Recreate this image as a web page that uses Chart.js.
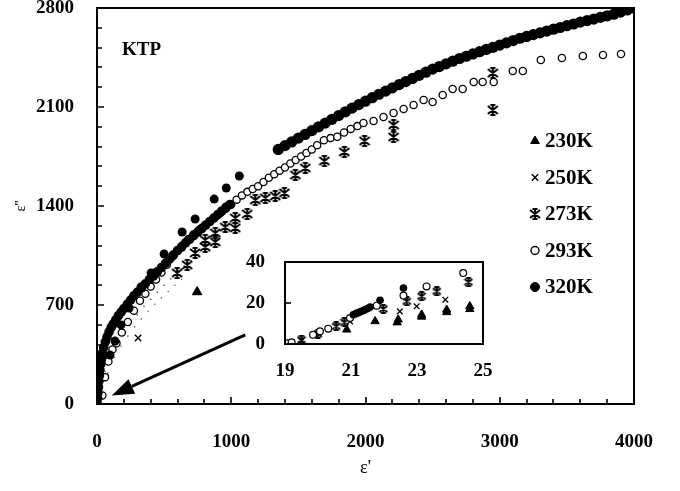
<!DOCTYPE html>
<html>
<head>
<meta charset="utf-8">
<script src="https://cdn.jsdelivr.net/npm/chart.js@4.4.0/dist/chart.umd.min.js"></script>
<style>
  body { margin: 0; background: #fff; }
  #wrap { position: relative; width: 680px; height: 491px; }
  #main { position: absolute; left: 0; top: 0; }
  #inset { position: absolute; left: 235px; top: 248px; }
</style>
</head>
<body>
<div id="wrap">
  <canvas id="main" width="680" height="491"></canvas>
  <canvas id="inset" width="260" height="135"></canvas>
</div>
<script>
// ---- main plot data (eps', eps'') ----
var k230 = [[746, 792]];
var k230trace = [[80,220],[130,330],[180,410],[230,480],[280,545],[330,600],[380,655],[430,705],[480,750],[530,795],[580,840],[630,880]];
var k250 = [[306, 467]];
var k250trace = [[60,230],[100,330],[150,420],[200,500],[250,570],[300,630],[350,690],[400,740],[450,790],[500,840],[550,885],[600,930],[650,975],[700,1015],[750,1055],[800,1090],[850,1125],[900,1160]];
var k273 = [[597,926],[672,983],[731,1068],[806,1110],[806,1160],[881,1146],[881,1209],[955,1251],[1030,1245],[1030,1315],[1119,1343],[1179,1442],[1254,1457],[1328,1471],[1396,1492],[1478,1619],[1552,1669],[1694,1718],[1843,1782],[1993,1860],[2209,1888],[2209,1973],[2948,2079],[2948,2340]];
var k293 = [[40,60],[60,190],[85,300],[115,385],[145,430],[185,505],[230,580],[275,660],[320,730],[360,780],[400,830],[440,880],[480,930],[520,985],[560,1040],[600,1085],[640,1125],[680,1165],[720,1200],[760,1230],[800,1260],[840,1290],[880,1320],[920,1350],[960,1380],[1000,1410],[1040,1445],[1080,1475],[1120,1500],[1160,1520],[1200,1540],[1240,1570],[1280,1600],[1320,1625],[1360,1650],[1400,1672],[1440,1700],[1480,1725],[1520,1750],[1560,1775],[1600,1800],[1640,1830],[1690,1865],[1740,1880],[1790,1890],[1840,1920],[1890,1945],[1940,1965],[1985,1987],[2060,2001],[2134,2029],[2209,2058],[2284,2086],[2358,2114],[2433,2149],[2500,2135],[2575,2185],[2649,2227],[2724,2227],[2806,2277],[2873,2277],[2955,2277],[3097,2355],[3172,2355],[3306,2432],[3463,2446],[3619,2461],[3769,2468],[3903,2475]];
var k320low = [[3,0],[5,40],[8,80],[11,120],[14,160],[18,200],[22,240],[27,280],[33,320],[40,360],[50,400],[62,440],[75,475],[90,510],[105,540],[120,565],[140,595],[160,625],[180,650],[200,675],[225,705],[250,735],[275,765],[300,790],[330,820],[360,850],[390,880],[420,905],[450,935],[480,965],[510,995],[540,1025],[570,1055],[600,1085],[630,1110],[660,1140],[690,1165],[720,1190],[750,1215],[780,1240],[810,1265],[840,1290],[870,1315],[900,1340],[930,1365],[960,1390],[990,1410]];
var k320dots = [[97,346],[134,445],[179,559],[239,679],[328,827],[403,926],[500,1061],[634,1216],[731,1308],[873,1449],[963,1527],[1060,1612]];
var k320high = [[1350,1800],[1400,1827],[1450,1853],[1500,1880],[1550,1906],[1600,1933],[1650,1960],[1700,1986],[1750,2013],[1800,2039],[1850,2066],[1900,2092],[1950,2117],[2000,2141],[2050,2166],[2100,2190],[2150,2212],[2200,2235],[2250,2258],[2300,2280],[2350,2302],[2400,2324],[2450,2346],[2500,2368],[2550,2386],[2600,2405],[2650,2424],[2700,2443],[2750,2459],[2800,2475],[2850,2491],[2900,2507],[2950,2522],[3000,2538],[3050,2554],[3100,2570],[3150,2586],[3200,2599],[3250,2612],[3300,2624],[3350,2637],[3400,2650],[3450,2662],[3500,2675],[3550,2687],[3600,2700],[3650,2711],[3700,2722],[3750,2734],[3800,2745],[3850,2756],[3900,2771],[3950,2786],[4000,2800]];

// ---- inset data ----
var in230 = [[20.87,7.0],[21.73,11.1],[22.43,11.9],[22.4,10.5],[23.14,14.3],[23.14,13.3],[23.9,16.7],[23.9,15.5],[24.6,18.4],[24.6,17.0]];
var in250 = [[19.15,0.8],[19.5,1.5],[20.97,11.0],[22.48,15.9],[22.99,18.4],[23.86,21.6]];
var in273 = [[19.5,2.1],[20.0,5.0],[20.55,8.6],[20.8,10.6],[21.98,17.1],[22.69,20.8],[23.14,23.3],[23.6,25.7],[24.56,30.2]];
var in293 = [[19.05,0.3],[19.2,0.8],[19.85,4.5],[20.06,6.2],[20.31,7.5],[20.97,12.7],[21.78,18.7],[22.59,23.6],[23.29,28.1],[24.4,34.6]];
var in320 = [[21.07,14.3],[21.15,14.8],[21.22,15.3],[21.3,15.8],[21.38,16.4],[21.45,16.9],[21.52,17.4],[21.58,18.0],[21.88,21.3],[22.59,27.3]];

var legendNames = ['230K', '250K', '273K', '293K', '320K'];
var serif = "'Liberation Serif', 'Times New Roman', serif";

function pts(a) { return a.map(function (p) { return { x: p[0], y: p[1] }; }); }

// asterisk symbol used for 273K
function makeStar(size, lw) {
  var c = document.createElement('canvas');
  c.width = size; c.height = size;
  var g = c.getContext('2d');
  g.strokeStyle = '#000'; g.lineWidth = lw;
  var m = size / 2;
  g.beginPath();
  g.moveTo(1, 2); g.lineTo(size - 1, size - 2);
  g.moveTo(size - 1, 2); g.lineTo(1, size - 2);
  g.moveTo(m, 0); g.lineTo(m, size);
  g.moveTo(m - 2.5, 1); g.lineTo(m + 2.5, 1);
  g.moveTo(m - 2.5, size - 1); g.lineTo(m + 2.5, size - 1);
  g.stroke();
  return c;
}
var starBig = makeStar(12, 2);
var starSmall = makeStar(10, 1.8);

function ds(label, data, style, r, fill, bw) {
  return {
    label: label, data: pts(data), pointStyle: style, pointRadius: r,
    backgroundColor: fill, borderColor: '#000', borderWidth: bw
  };
}

// frame + inward ticks
function framePlugin(xMajor, xLen, yMajor, yLen, xMinorLen, yMinorLen) {
  return {
    id: 'frame',
    afterDraw: function (chart) {
      var a = chart.chartArea, ctx = chart.ctx;
      var sx = chart.scales.x, sy = chart.scales.y;
      ctx.save();
      ctx.strokeStyle = '#000';
      ctx.lineWidth = 2;
      ctx.strokeRect(a.left, a.top, a.right - a.left, a.bottom - a.top);
      ctx.lineWidth = 1.6;
      ctx.beginPath();
      sx.ticks.forEach(function (t) {
        if (t.value <= sx.min || t.value >= sx.max) return;
        var len = t.value % xMajor === 0 ? xLen : xMinorLen;
        if (!len) return;
        var px = Math.round(sx.getPixelForValue(t.value));
        ctx.moveTo(px, a.bottom); ctx.lineTo(px, a.bottom - len);
      });
      sy.ticks.forEach(function (t) {
        if (t.value <= sy.min || t.value >= sy.max) return;
        var len = t.value % yMajor === 0 ? yLen : yMinorLen;
        if (!len) return;
        var py = Math.round(sy.getPixelForValue(t.value));
        ctx.moveTo(a.left, py); ctx.lineTo(a.left + len, py);
      });
      ctx.stroke();
      ctx.restore();
    }
  };
}

// KTP label, arrow and legend of the main plot
var notes = {
  id: 'notes',
  afterDraw: function (chart) {
    var a = chart.chartArea, ctx = chart.ctx;
    var sx = chart.scales.x, sy = chart.scales.y;
    ctx.save();
    ctx.fillStyle = '#000';
    ctx.font = 'bold 19px ' + serif;
    ctx.textBaseline = 'middle';
    ctx.fillText('KTP', a.left + 25, a.top + 42);

    // arrow from inset to origin
    var x0 = sx.getPixelForValue(1104), y0 = sy.getPixelForValue(488);
    var x1 = sx.getPixelForValue(110), y1 = sy.getPixelForValue(60);
    var ang = Math.atan2(y1 - y0, x1 - x0);
    var hl = 22, hw = 8;
    var bx = x1 - hl * Math.cos(ang), by = y1 - hl * Math.sin(ang);
    ctx.strokeStyle = '#000'; ctx.lineWidth = 3;
    ctx.beginPath(); ctx.moveTo(x0, y0); ctx.lineTo(bx, by); ctx.stroke();
    ctx.beginPath();
    ctx.moveTo(x1, y1);
    ctx.lineTo(bx + hw * Math.sin(ang), by - hw * Math.cos(ang));
    ctx.lineTo(bx - hw * Math.sin(ang), by + hw * Math.cos(ang));
    ctx.closePath(); ctx.fill();

    // legend
    var styles = [
      { pointStyle: 'triangle', radius: 5, fill: '#000', bw: 1 },
      { pointStyle: 'crossRot', radius: 4.5, fill: '#000', bw: 1.4 },
      { pointStyle: starBig, radius: 5, fill: '#000', bw: 1 },
      { pointStyle: 'circle', radius: 4, fill: '#fff', bw: 1.4 },
      { pointStyle: 'circle', radius: 4.5, fill: '#000', bw: 1 }
    ];
    ctx.font = 'bold 21px ' + serif;
    legendNames.forEach(function (name, i) {
      var y = 141 + i * 36.5;
      var s = styles[i];
      ctx.fillStyle = s.fill; ctx.strokeStyle = '#000'; ctx.lineWidth = s.bw;
      Chart.helpers.drawPoint(ctx, { pointStyle: s.pointStyle, radius: s.radius, rotation: 0, borderWidth: s.bw }, 535, y);
      ctx.fillStyle = '#000';
      ctx.fillText(name, 545, y + 1);
    });
    ctx.restore();
  }
};

var tickFont = { family: serif, size: 19, weight: 'bold' };

new Chart(document.getElementById('main'), {
  type: 'scatter',
  data: {
    datasets: [
      ds('320K low', k320low, 'circle', 4.8, '#000', 0),
      ds('320K', k320dots, 'circle', 4.5, '#000', 0),
      ds('320K high', k320high, 'circle', 5.6, '#000', 0),
      ds('273K', k273, starBig, 5, '#000', 1),
      ds('293K', k293, 'circle', 3.6, '#fff', 1.3),
      ds('250K', k250, 'crossRot', 4.5, '#000', 1.4),
      ds('230K', k230, 'triangle', 5.5, '#000', 1),
      ds('250K trace', k250trace, 'circle', 0.8, '#444', 0),
      ds('230K trace', k230trace, 'circle', 0.8, '#666', 0)
    ]
  },
  options: {
    responsive: false,
    animation: false,
    events: [],
    layout: { padding: { left: 0, right: 46, top: 8, bottom: 0 } },
    plugins: { legend: { display: false }, tooltip: { enabled: false } },
    scales: {
      x: {
        type: 'linear', min: 0, max: 4000,
        grid: { display: false }, border: { display: false },
        ticks: {
          stepSize: 200, autoSkip: false, maxRotation: 0, color: '#000', font: tickFont, padding: 19,
          callback: function (v) { return v % 1000 === 0 ? v : ''; }
        },
        title: { display: true, text: "ε'", color: '#000', font: { family: serif, size: 18 }, padding: { top: 0, bottom: 12 } },
        afterFit: function (s) { s.height = 87; s.paddingLeft = 0; s.paddingRight = 0; }
      },
      y: {
        type: 'linear', min: 0, max: 2800,
        grid: { display: false }, border: { display: false },
        ticks: {
          stepSize: 140, autoSkip: false, color: '#000', font: tickFont, padding: 15,
          callback: function (v) { return v % 700 === 0 ? v : ''; }
        },
        title: { display: true, text: "ε''", color: '#000', font: { family: serif, size: 14 }, padding: { top: 13, bottom: 0 } },
        afterFit: function (s) { s.width = 97; s.paddingTop = 0; s.paddingBottom = 0; }
      }
    }
  },
  plugins: [framePlugin(1000, 7, 700, 7, 5, 5), notes]
});

new Chart(document.getElementById('inset'), {
  type: 'scatter',
  data: {
    datasets: [
      ds('320K', in320, 'circle', 3.8, '#000', 0),
      ds('293K', in293, 'circle', 3.4, '#fff', 1.2),
      ds('273K', in273, starSmall, 4, '#000', 1),
      ds('250K', in250, 'crossRot', 4, '#000', 1.3),
      ds('230K', in230, 'triangle', 4.8, '#000', 1)
    ]
  },
  options: {
    responsive: false,
    animation: false,
    events: [],
    layout: { padding: { left: 0, right: 12, top: 14, bottom: 0 } },
    plugins: { legend: { display: false }, tooltip: { enabled: false } },
    scales: {
      x: {
        type: 'linear', min: 19, max: 25,
        grid: { display: false }, border: { display: false },
        ticks: { stepSize: 2, autoSkip: false, maxRotation: 0, color: '#000', font: tickFont, padding: 8 },
        afterFit: function (s) { s.height = 39; s.paddingLeft = 0; s.paddingRight = 0; }
      },
      y: {
        type: 'linear', min: 0, max: 40,
        grid: { display: false }, border: { display: false },
        ticks: { stepSize: 20, autoSkip: false, color: '#000', font: tickFont, padding: 12 },
        afterFit: function (s) { s.width = 50; s.paddingTop = 0; s.paddingBottom = 0; }
      }
    }
  },
  plugins: [framePlugin(2, 6, 20, 6, 0, 0)]
});
</script>
</body>
</html>
